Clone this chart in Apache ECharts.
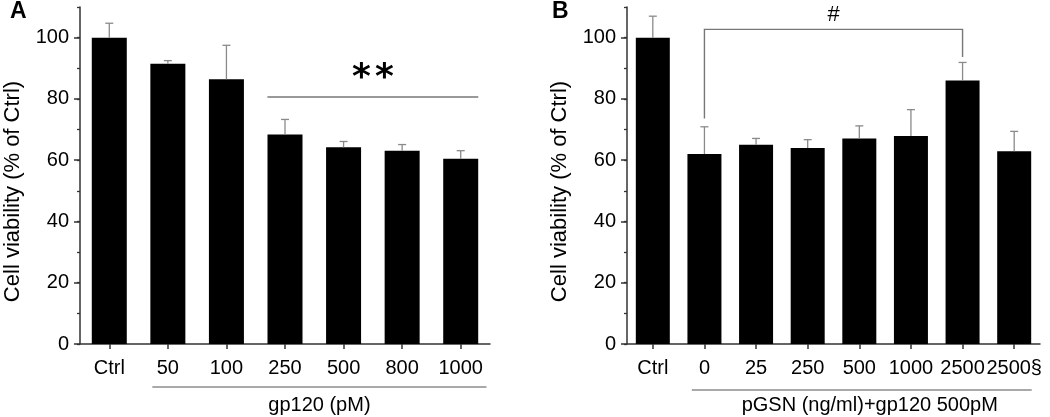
<!DOCTYPE html>
<html>
<head>
<meta charset="utf-8">
<script src="https://cdn.jsdelivr.net/npm/echarts@6/dist/echarts.min.js"></script>
<style>html,body{margin:0;padding:0;background:#fff}#c{width:1050px;height:417px}</style>
</head>
<body>
<div id="c"></div>
<script>
// Panel A data
var catsA = ['Ctrl', '50', '100', '250', '500', '800', '1000'];
var meanA = [100, 91.5, 86.4, 68.4, 64.2, 63.1, 60.5];
var errTopA = [104.7, 92.5, 97.5, 73.3, 66.1, 65.1, 63.1];
var groupA = 'gp120 (pM)';
var sigA = {from: '250', to: '1000', y: 80.6, label: '**'};

// Panel B data
var catsB = ['Ctrl', '0', '25', '250', '500', '1000', '2500', '2500§'];
var meanB = [100, 62.0, 65.0, 64.0, 67.1, 67.9, 86.0, 62.9];
var errTopB = [107, 70.9, 67.1, 66.7, 71.2, 76.5, 91.9, 69.4];
var groupB = 'pGSN (ng/ml)+gp120 500pM';
var sigB = {from: 1, to: 6, y: 102.7, leftY: 73.6, rightY: 93.7, label: '#'};

var yTickLabels = [0, 20, 40, 60, 80, 100];
var yAxisName = 'Cell viability (% of Ctrl)';

var FONT = 'Liberation Sans, Arial, sans-serif';
var AXC = '#333';
var GRAY = '#8a8a8a';
var TXT = '#000';

function errData(means, tops) {
  return means.map(function (m, i) { return [i, m, tops[i]]; });
}
function errRender(params, api) {
  var p0 = api.coord([api.value(0), api.value(1)]);
  var p1 = api.coord([api.value(0), api.value(2)]);
  var st = {stroke: GRAY, lineWidth: 1.3};
  return {type: 'group', children: [
    {type: 'line', shape: {x1: p0[0], y1: p0[1], x2: p1[0], y2: p1[1]}, style: st},
    {type: 'line', shape: {x1: p1[0] - 4, y1: p1[1], x2: p1[0] + 4, y2: p1[1]}, style: st}
  ]};
}

function yAxes(gi) {
  return [
    {gridIndex: gi, type: 'value', position: 'left', offset: 0, min: 0, max: 110,
     axisLine: {show: true, lineStyle: {color: AXC, width: 1.5}},
     axisTick: {show: true, length: 6, lineStyle: {color: AXC, width: 1.5}, customValues: yTickLabels},
     axisLabel: {color: TXT, fontSize: 20, fontFamily: FONT, margin: 11, customValues: yTickLabels},
     splitLine: {show: false},
     name: yAxisName, nameLocation: 'middle', nameGap: 56,
     nameTextStyle: {color: TXT, fontSize: 22, fontFamily: FONT, padding: [0, 32, 0, 0]}
    },
    {gridIndex: gi, type: 'value', position: 'left', offset: 0, min: 0, max: 110, interval: 10,
     axisLine: {show: false},
     axisTick: {show: true, length: 3, lineStyle: {color: AXC, width: 1.3}},
     axisLabel: {show: false}, splitLine: {show: false}}
  ];
}
function xAxis(gi, cats) {
  return {gridIndex: gi, type: 'category', data: cats,
    axisLine: {show: true, lineStyle: {color: AXC, width: 1.5}},
    axisTick: {show: true, alignWithLabel: true, length: 5, lineStyle: {color: AXC, width: 1.5}},
    axisLabel: {color: TXT, fontSize: 20, fontFamily: FONT, margin: 14, interval: 0}
  };
}

var chart = echarts.init(document.getElementById('c'), null, {renderer: 'canvas'});
var option = {
  animation: false,
  backgroundColor: '#fff',
  title: [
    {text: 'A', left: 10, top: 0, padding: 0, textStyle: {fontSize: 23, fontWeight: 'bold', fontFamily: FONT, color: '#000'}},
    {text: 'B', left: 552, top: 0, padding: 0, textStyle: {fontSize: 23, fontWeight: 'bold', fontFamily: FONT, color: '#000'}}
  ],
  grid: [
    {left: 80, top: 7, width: 410, bottom: 73},
    {left: 627, top: 7, width: 413, bottom: 73}
  ],
  xAxis: [xAxis(0, catsA), xAxis(1, catsB)],
  yAxis: yAxes(0).concat(yAxes(1)),
  series: [
    {type: 'bar', xAxisIndex: 0, yAxisIndex: 0, data: meanA, barWidth: 35, itemStyle: {color: '#000'}, z: 2},
    {type: 'custom', xAxisIndex: 0, yAxisIndex: 0, data: errData(meanA, errTopA), renderItem: errRender, z: 3},
    {type: 'bar', xAxisIndex: 1, yAxisIndex: 2, data: meanB, barWidth: 34, itemStyle: {color: '#000'}, z: 2},
    {type: 'custom', xAxisIndex: 1, yAxisIndex: 2, data: errData(meanB, errTopB), renderItem: errRender, z: 3},
    // Panel A annotations
    {type: 'custom', xAxisIndex: 0, yAxisIndex: 0, data: [[0, 0]], z: 4, silent: true,
     renderItem: function (params, api) {
       var band = api.size([1, 0])[0];
       var a = api.coord([catsA.indexOf(sigA.from), sigA.y]);
       var b = api.coord([catsA.indexOf(sigA.to), sigA.y]);
       var x1 = a[0] - 0.3 * band, x2 = b[0] + 0.3 * band, cx = (x1 + x2) / 2;
       var g1 = api.coord([1, 0]);
       var g2 = api.coord([catsA.length - 1, 0]);
       var ux1 = g1[0] - 0.265 * band, ux2 = g2[0] + 0.44 * band;
       var uy = g1[1] + 43;
       var ast = {fontSize: 36, fontWeight: 'bold', fontFamily: 'DejaVu Sans', fill: '#000', align: 'center', verticalAlign: 'middle'};
       return {type: 'group', children: [
         {type: 'line', shape: {x1: x1, y1: a[1], x2: x2, y2: b[1]}, style: {stroke: '#777', lineWidth: 1.5}},
         {type: 'text', x: cx - 11.5, y: a[1] - 18, style: Object.assign({text: sigA.label.charAt(0)}, ast)},
         {type: 'text', x: cx + 11.5, y: a[1] - 18, style: Object.assign({text: sigA.label.charAt(1)}, ast)},
         {type: 'line', shape: {x1: ux1, y1: uy, x2: ux2, y2: uy}, style: {stroke: '#555', lineWidth: 1.2}},
         {type: 'text', x: (ux1 + ux2) / 2, y: g1[1] + 61, style: {text: groupA, fontSize: 20, fontFamily: FONT, fill: TXT, align: 'center', verticalAlign: 'middle'}}
       ]};
     }},
    // Panel B annotations
    {type: 'custom', xAxisIndex: 1, yAxisIndex: 2, data: [[0, 0]], z: 4, silent: true,
     renderItem: function (params, api) {
       var band = api.size([1, 0])[0];
       var t1 = api.coord([sigB.from, sigB.y]);
       var t2 = api.coord([sigB.to, sigB.y]);
       var l = api.coord([sigB.from, sigB.leftY]);
       var r = api.coord([sigB.to, sigB.rightY]);
       var g1 = api.coord([1, 0]);
       var g2 = api.coord([catsB.length - 1, 0]);
       var ux1 = g1[0] - 0.245 * band, ux2 = g2[0] + 0.34 * band;
       var uy = g1[1] + 46;
       var st = {stroke: '#777', lineWidth: 1.4, fill: null};
       return {type: 'group', children: [
         {type: 'polyline', shape: {points: [[l[0], l[1]], [t1[0], t1[1]], [t2[0], t2[1]], [r[0], r[1]]]}, style: st},
         {type: 'text', x: (t1[0] + t2[0]) / 2, y: t1[1] - 14, style: {text: sigB.label, fontSize: 22, fontFamily: FONT, fill: TXT, align: 'center', verticalAlign: 'middle'}},
         {type: 'line', shape: {x1: ux1, y1: uy, x2: ux2, y2: uy}, style: {stroke: '#555', lineWidth: 1.2}},
         {type: 'text', x: (ux1 + ux2) / 2 + 8, y: g1[1] + 61, style: {text: groupB, fontSize: 20, fontFamily: FONT, fill: TXT, align: 'center', verticalAlign: 'middle'}}
       ]};
     }}
  ]
};
chart.setOption(option);
</script>
</body>
</html>
